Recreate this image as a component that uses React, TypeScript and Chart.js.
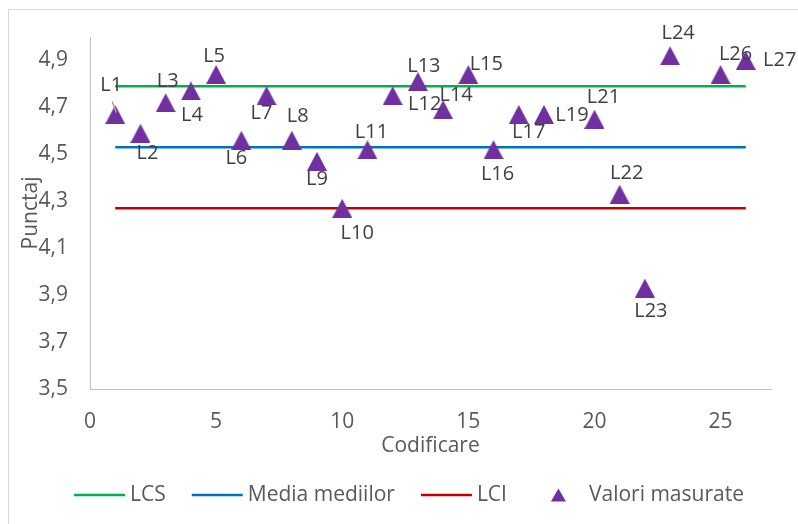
import React, { useEffect, useRef } from 'react';
import { Chart, registerables } from 'chart.js';

Chart.register(...registerables);

// ---- data ----
const codes = [1, 2, 3, 4, 5, 6, 7, 8, 9, 10, 11, 12, 13, 14, 15, 16, 17, 18, 20, 21, 22, 23, 25, 26];
const measured = [4.67, 4.59, 4.72, 4.77, 4.84, 4.56, 4.75, 4.56, 4.47, 4.27, 4.52, 4.75, 4.81, 4.69, 4.84, 4.52, 4.67, 4.67, 4.65, 4.33, 3.93, 4.92, 4.84, 4.9];
const pointNames = ['L1', 'L2', 'L3', 'L4', 'L5', 'L6', 'L7', 'L8', 'L9', 'L10', 'L11', 'L12', 'L13', 'L14', 'L15', 'L16', 'L17', 'L19', 'L21', 'L22', 'L23', 'L24', 'L26', 'L27'];
const LCS = 4.79;
const MEDIA = 4.53;
const LCI = 4.27;
const seriesNames = ['LCS', 'Media mediilor', 'LCI', 'Valori masurate'];
const xTickValues = [0, 5, 10, 15, 20, 25];
const yTickValues = [3.5, 3.7, 3.9, 4.1, 4.3, 4.5, 4.7, 4.9];
const xTitle = 'Codificare';
const yTitle = 'Punctaj';

// label placement (pixel offsets from the marker), styling only
const labelOffsets: [number, number][] = [
  [-4, -29], [7, 20], [2, -21], [1, 24], [-2, -18], [-5, 18], [-5, 18], [6, -24], [0, 18], [15, 25],
  [4, -17], [32, 9], [6, -15], [13, -14], [18, -10], [4, 25], [10, 18], [28, 1], [9, -22], [7, -21],
  [6, 23], [8, -22], [15, -20], [34, 0],
];

const FONT = '"Open Sans", sans-serif';
const FS = 21;
const FS_LABEL = 20;
const PURPLE = '#7030A0';
const COLORS = ['#00B050', '#0070C0', '#C00000', PURPLE];

function makeTriangle(w: number, h: number, color: string) {
  const c = document.createElement('canvas');
  c.width = w;
  c.height = h;
  const g = c.getContext('2d')!;
  g.fillStyle = color;
  g.beginPath();
  g.moveTo(0, h);
  g.lineTo(w / 2, 0);
  g.lineTo(w, h);
  g.closePath();
  g.fill();
  return c;
}

export default function App() {
  const ref = useRef<HTMLCanvasElement>(null);

  useEffect(() => {
    document.body.style.overflow = 'hidden';
    const tri = makeTriangle(20, 19, PURPLE);
    const lineData = (v: number) => [
      { x: codes[0], y: v },
      { x: codes[codes.length - 1], y: v },
    ];

    const bgPlugin = {
      id: 'bg',
      beforeDraw(chart: any) {
        const { ctx } = chart;
        ctx.save();
        ctx.fillStyle = '#ffffff';
        ctx.fillRect(0, 0, chart.width, chart.height);
        ctx.strokeStyle = '#d9d9d9';
        ctx.lineWidth = 1;
        ctx.strokeRect(8.5, 9.5, 1000, 1000);
        ctx.restore();
      },
    };

    const labelPlugin = {
      id: 'pointLabels',
      afterDatasetsDraw(chart: any) {
        const { ctx } = chart;
        const meta = chart.getDatasetMeta(3);
        ctx.save();
        ctx.font = `${FS_LABEL}px ${FONT}`;
        ctx.fillStyle = '#404040';
        ctx.textAlign = 'center';
        ctx.textBaseline = 'middle';
        meta.data.forEach((el: any, i: number) => {
          const [dx, dy] = labelOffsets[i];
          ctx.fillText(pointNames[i], el.x + dx, el.y + dy);
        });
        // leader line for L1
        const p0 = meta.data[0];
        ctx.strokeStyle = '#a6a6a6';
        ctx.lineWidth = 1.5;
        ctx.beginPath();
        ctx.moveTo(p0.x - 3, p0.y - 13);
        ctx.lineTo(p0.x + 1, p0.y - 2);
        ctx.stroke();
        ctx.restore();
      },
    };

    const legendPlugin = {
      id: 'customLegend',
      afterDraw(chart: any) {
        const { ctx } = chart;
        ctx.save();
        ctx.font = `${FS}px ${FONT}`;
        const sym = 51;
        const gap = 5;
        const itemGap = 26;
        const ds = chart.data.datasets;
        const widths = ds.map((d: any) => sym + gap + ctx.measureText(d.label).width);
        const total = widths.reduce((a: number, b: number) => a + b, 0) + itemGap * (ds.length - 1);
        let x = 409 - total / 2;
        const y = 495;
        ds.forEach((d: any, i: number) => {
          if (d.showLine) {
            ctx.strokeStyle = d.borderColor;
            ctx.lineWidth = 2.5;
            ctx.beginPath();
            ctx.moveTo(x, y);
            ctx.lineTo(x + sym, y);
            ctx.stroke();
          } else {
            const cx = x + sym / 2;
            ctx.fillStyle = PURPLE;
            ctx.beginPath();
            ctx.moveTo(cx - 7.5, y + 6.5);
            ctx.lineTo(cx, y - 6.5);
            ctx.lineTo(cx + 7.5, y + 6.5);
            ctx.closePath();
            ctx.fill();
          }
          ctx.fillStyle = '#595959';
          ctx.textAlign = 'left';
          ctx.textBaseline = 'middle';
          ctx.fillText(d.label, x + sym + gap, y);
          x += widths[i] + itemGap;
        });
        ctx.restore();
      },
    };

    const chart = new Chart(ref.current!, {
      type: 'scatter',
      data: {
        datasets: [
          { label: seriesNames[0], data: lineData(LCS), showLine: true, borderColor: COLORS[0], borderWidth: 2.5, pointRadius: 0, order: 1 },
          { label: seriesNames[1], data: lineData(MEDIA), showLine: true, borderColor: COLORS[1], borderWidth: 2.5, pointRadius: 0, order: 1 },
          { label: seriesNames[2], data: lineData(LCI), showLine: true, borderColor: COLORS[2], borderWidth: 2.5, pointRadius: 0, order: 1 },
          {
            label: seriesNames[3],
            data: codes.map((c, i) => ({ x: c, y: measured[i] })),
            showLine: false,
            pointStyle: tri as any,
            backgroundColor: PURPLE,
            borderColor: PURPLE,
            order: 0,
          },
        ],
      },
      options: {
        responsive: false,
        animation: false,
        layout: { padding: { top: 37, right: 27, left: 0, bottom: 0 } },
        plugins: {
          legend: { display: false },
          tooltip: { enabled: false },
        },
        scales: {
          x: {
            type: 'linear',
            min: 0,
            max: 27,
            grid: { display: false, drawTicks: false },
            border: { display: true, color: '#bfbfbf', width: 1 },
            ticks: {
              padding: 20,
              color: '#595959',
              font: { family: FONT, size: FS },
              maxRotation: 0,
            },
            afterBuildTicks: (s: any) => {
              s.ticks = xTickValues.map((v) => ({ value: v }));
            },
            afterFit: (s: any) => {
              s.height = 135;
            },
            title: {
              display: true,
              text: xTitle,
              color: '#595959',
              font: { family: FONT, size: FS },
              padding: { top: 0, bottom: 65 },
            },
          },
          y: {
            type: 'linear',
            min: 3.5,
            max: 5.0,
            grid: { display: false, drawTicks: false },
            border: { display: true, color: '#bfbfbf', width: 1 },
            ticks: {
              padding: 22,
              color: '#595959',
              font: { family: FONT, size: FS },
              callback: (v: any) => Number(v).toFixed(1).replace('.', ','),
            },
            afterBuildTicks: (s: any) => {
              s.ticks = yTickValues.map((v) => ({ value: v }));
            },
            afterFit: (s: any) => {
              s.width = 90;
            },
            title: {
              display: true,
              text: yTitle,
              color: '#595959',
              font: { family: FONT, size: FS },
              padding: { top: 18, bottom: 0 },
            },
          },
        },
      },
      plugins: [bgPlugin, labelPlugin, legendPlugin],
    });
    return () => chart.destroy();
  }, []);

  return (
    <div style={{ position: 'fixed', left: 0, top: 0, width: 798, height: 524 }}>
      <canvas ref={ref} width={798} height={524} style={{ width: 798, height: 524, display: 'block' }} />
    </div>
  );
}
